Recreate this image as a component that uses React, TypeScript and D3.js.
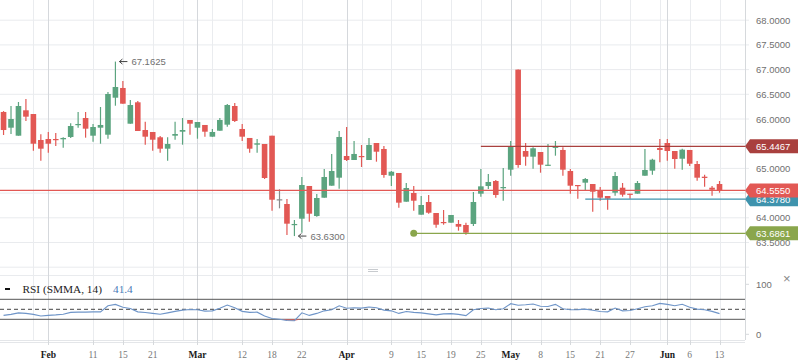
import React from 'react';
import * as d3 from 'd3';

const W = 798, H = 363;

const openV = [66.142,65.824,65.662,66.176,66.101,65.575,65.595,65.595,65.589,65.636,
65.885,66.020,65.662,65.824,65.682,66.431,66.628,65.905,66.338,65.777,
65.737,65.630,65.399,65.662,65.743,65.980,65.824,65.879,65.642,65.763,
65.885,66.263,65.798,65.616,65.480,65.494,65.662,64.375,64.279,63.854,
63.982,64.644,64.036,64.407,64.650,64.812,65.251,65.170,65.251,65.170,
65.514,65.393,64.852,64.907,64.326,64.502,64.063,64.320,64.097,63.915,
63.901,63.875,63.854,63.875,64.488,64.644,64.745,64.603,64.974,67.000,
65.352,65.237,65.332,65.055,65.419,65.373,64.947,64.664,64.711,64.684,
64.549,64.441,64.508,64.609,64.488,64.488,64.852,64.954,65.413,65.514,
65.352,65.196,65.373,65.089,64.832,64.609,64.684];
const highV = [66.160,66.263,66.344,66.405,66.101,65.690,65.737,65.717,65.630,65.913,
66.142,66.142,65.899,66.243,66.547,67.1625,66.769,66.385,66.364,65.945,
65.737,65.656,65.630,65.945,66.020,65.980,65.939,65.879,65.798,66.020,
66.304,66.324,65.899,65.616,65.595,65.494,65.662,64.577,64.381,63.956,
64.826,64.644,64.482,64.988,65.292,65.757,65.838,65.555,65.474,65.616,
65.514,65.453,64.947,64.907,64.704,64.644,64.441,64.462,64.097,64.158,
64.057,63.956,63.901,64.522,64.988,64.887,64.765,65.008,65.555,67.000,
65.514,65.427,65.332,65.494,65.555,65.427,64.988,64.664,64.806,64.684,
64.623,64.441,64.927,64.704,64.488,64.745,65.393,65.196,65.595,65.595,
65.352,65.399,65.373,65.150,64.873,64.644,64.745];
const lowV = [65.676,65.696,65.662,65.960,65.358,65.156,65.318,65.453,65.419,65.616,
65.824,65.622,65.541,65.500,65.601,66.269,66.310,65.905,65.757,65.480,
65.358,65.318,65.156,65.581,65.480,65.682,65.601,65.642,65.642,65.763,
65.844,65.939,65.555,65.318,65.318,64.785,64.144,64.192,63.652,63.630,
63.699,63.921,64.022,64.407,64.650,64.589,65.150,65.170,65.028,65.170,
65.136,64.812,64.644,64.205,64.326,64.144,64.063,64.083,63.800,63.860,
63.901,63.739,63.658,63.834,64.427,64.583,64.407,64.346,64.852,65.014,
65.055,64.994,64.913,65.055,65.257,64.852,64.488,64.387,64.549,64.124,
64.346,64.164,64.447,64.427,64.387,64.488,64.852,64.873,65.124,65.156,
64.994,64.974,65.049,64.751,64.630,64.447,64.508];
const closeV = [65.777,66.000,66.263,66.047,65.500,65.399,65.500,65.581,65.616,65.858,
65.899,65.804,65.838,65.879,66.506,66.648,66.310,66.283,65.757,65.642,
65.581,65.399,65.494,65.696,65.777,65.905,65.939,65.743,65.737,65.980,
66.283,65.960,65.642,65.399,65.508,64.806,64.366,64.375,63.881,63.875,
64.664,64.083,64.401,64.826,64.947,65.636,65.170,65.292,65.237,65.474,
65.338,64.867,64.933,64.306,64.603,64.346,64.259,64.103,63.860,63.895,
64.057,63.820,63.699,64.320,64.637,64.725,64.462,64.623,65.433,65.069,
65.237,65.407,65.075,65.075,65.439,64.974,64.650,64.650,64.785,64.528,
64.407,64.387,64.846,64.468,64.468,64.704,64.968,65.176,65.373,65.352,
65.190,65.379,65.095,64.812,64.806,64.569,64.555];

const rsiV = [37.8,39.8,42.9,41.8,39.8,36.7,37.8,38.8,40.2,43.9,
44.3,44.3,44.9,44.9,57.1,59.8,54.1,51.6,44.9,43.5,
41.8,40.2,42.9,45.9,48.4,49.6,49.0,46.3,46.9,52.0,
58.6,53.1,45.9,43.9,44.3,36.7,31.6,30.0,27.6,27.1,
42.9,37.8,41.8,46.9,49.0,57.1,52.0,53.1,52.4,54.7,
53.1,48.4,46.9,41.8,45.5,43.9,42.9,40.8,38.8,40.8,
41.4,39.8,37.3,49.0,51.6,52.7,49.0,51.0,61.2,58.2,
59.2,60.6,56.1,55.7,59.8,51.0,49.0,49.4,50.4,48.0,
45.5,44.9,52.4,46.9,47.6,51.0,55.1,57.1,61.8,59.8,
57.1,60.2,54.1,50.4,49.0,45.9,41.4];

const tickIdx = [6, 12, 16, 20, 26, 32, 36, 40, 46, 52, 56, 60, 64, 68, 72, 76, 80, 84, 89, 92, 96];
const tickLabels = ['Feb', '11', '15', '21', 'Mar', '12', '18', '22', 'Apr', '9', '15', '19', '25', 'May', '8', '15', '21', '27', 'Jun', '6', '13'];
const monthIdx = [6, 26, 46, 68, 89];
const extraGridIdx = [4, 24, 28, 48, 88];
// labels that stay visible (65.5 and 64.5 sit under the price tags)
const yTicks = [68, 67.5, 67, 66.5, 66, 65, 64, 63.5];
const yGrid = [68.5, 68, 67.5, 67, 66.5, 66, 65.5, 65, 64.5, 64, 63.5, 63];
const rsiLevels = [70, 50, 30];

// price level drawings: value, start index, colour
const levelValues = [65.4467, 64.378, 63.6861];
const levelStart = [64, 78, 55];
const levelColors = ['#a9403e', '#3f93ad', '#8aa64c'];
const lastClose = 64.555;
const highIdx = 15, lowIdx = 39;

const GREEN = '#5ba47f', RED = '#e25854';

export default function App() {
  const x = d3.scaleLinear().domain([0, 96]).range([3.55, 3.55 + 96 * 7.458]);
  const y = d3.scaleLinear().domain([63.5, 68]).range([242.5, 20.2]);
  const ry = d3.scaleLinear().domain([0, 100]).range([334.3, 284.3]);
  const axisX = 745;
  const bw = 5.6;
  const fmt = d3.format('.4f');
  const sans = '"Liberation Sans", Arial, sans-serif';
  const serif = '"Liberation Serif", "Times New Roman", serif';

  const rsiLine = d3.line<number>().x((d, i) => x(i)).y(d => ry(d));
  const rsiArea = d3.area<number>().x((d, i) => x(i)).y0(ry(30)).y1(d => ry(Math.min(d, 30)));

  const tag = (v: number, color: string, key: string) => {
    const cy = y(v);
    const pts = [[axisX, cy], [axisX + 5, cy - 7], [W, cy - 7], [W, cy + 7], [axisX + 5, cy + 7]];
    return (
      <g key={key}>
        <polygon points={pts.map(p => p.join(',')).join(' ')} fill={color} />
        <text x={756} y={cy + 3.5} fill="#fff" fontSize={9.5} fontFamily={sans}>{fmt(v)}</text>
      </g>
    );
  };

  const gridIdx = [...tickIdx, ...extraGridIdx];

  return (
    <div style={{ position: 'absolute', left: 0, top: 0, width: W, height: H, background: '#fff' }}>
      <svg width={W} height={H} style={{ display: 'block' }}>
        <rect x={0} y={0} width={W} height={H} fill="#fff" />
        <defs>
          <clipPath id="plotClip"><rect x={0} y={0} width={axisX} height={268} /></clipPath>
          <clipPath id="rsiClip"><rect x={0} y={276} width={axisX} height={64} /></clipPath>
        </defs>
        {yGrid.map(v => (
          <line key={'hg' + v} x1={0} x2={axisX + 4} y1={y(v)} y2={y(v)} stroke="#e9ebee" />
        ))}
        <line x1={0} x2={axisX} y1={275.5} y2={275.5} stroke="#e9ebee" />
        <line x1={0} x2={axisX} y1={340.5} y2={340.5} stroke="#e4e6e9" />
        {gridIdx.map(i => (
          <line key={'vg' + i} x1={Math.round(x(i)) + 0.5} x2={Math.round(x(i)) + 0.5} y1={0} y2={340}
            stroke={monthIdx.includes(i) ? '#d5d8dc' : '#eaecef'} />
        ))}
        <line x1={axisX + 0.5} x2={axisX + 0.5} y1={0} y2={340} stroke="#d6d9dc" />
        <line x1={368} x2={378} y1={269.5} y2={269.5} stroke="#c8cbcf" />
        <line x1={368} x2={378} y1={271.5} y2={271.5} stroke="#c8cbcf" />

        {yTicks.map(v => (
          <text key={'yl' + v} x={756} y={y(v) + 3.5} fill="#707070" fontSize={9.5} fontFamily={sans}>{fmt(v)}</text>
        ))}

        <g clipPath="url(#plotClip)">
          {openV.map((o, i) => {
            const c = closeV[i];
            const col = c > o ? GREEN : c < o ? RED : '#8a8a8a';
            const top = y(Math.max(o, c)), bot = y(Math.min(o, c));
            const cx = x(i);
            return (
              <g key={'c' + i}>
                <line x1={cx} x2={cx} y1={y(highV[i])} y2={y(lowV[i])} stroke={col} strokeWidth={1.2} />
                <rect x={cx - bw / 2} y={top} width={bw} height={Math.max(bot - top, 1.2)} fill={col} />
              </g>
            );
          })}
        </g>

        <line x1={0} x2={axisX} y1={y(lastClose)} y2={y(lastClose)} stroke={RED} strokeWidth={1.2} />
        {levelValues.map((v, k) => (
          <line key={'lv' + k} x1={x(levelStart[k])} x2={axisX} y1={y(v)} y2={y(v)} stroke={levelColors[k]} strokeWidth={1.2} />
        ))}
        <circle cx={x(levelStart[2])} cy={y(levelValues[2])} r={3.5} fill={levelColors[2]} />

        {[[highIdx, highV[highIdx]], [lowIdx, lowV[lowIdx]]].map(([i, v]) => {
          const ax = x(i) + 3, ay = y(v);
          return (
            <g key={'ann' + i}>
              <line x1={ax + 9} x2={ax + 1} y1={ay} y2={ay} stroke="#444" strokeWidth={1} />
              <path d={`M${ax + 4},${ay - 2.5} L${ax + 1},${ay} L${ax + 4},${ay + 2.5}`} fill="none" stroke="#444" strokeWidth={1} />
              <text x={ax + 13} y={ay + 3.5} fill="#707070" fontSize={9.5} fontFamily={sans}>{fmt(v)}</text>
            </g>
          );
        })}

        {tag(levelValues[0], levelColors[0], 't0')}
        {tag(levelValues[1], levelColors[1], 't1')}
        {tag(lastClose, RED, 't2')}
        {tag(levelValues[2], levelColors[2], 't3')}

        <g clipPath="url(#rsiClip)">
          {rsiLevels.map(l => (
            <line key={'rl' + l} x1={0} x2={axisX} y1={ry(l)} y2={ry(l)} stroke={l === 50 ? '#444' : '#555'}
              strokeDasharray={l === 50 ? '4,3' : undefined} strokeWidth={1} />
          ))}
          <path d={rsiArea(rsiV) || ''} fill={RED} opacity={0.85} />
          <path d={rsiLine(rsiV) || ''} fill="none" stroke="#6f95c8" strokeWidth={1.1} />
        </g>
        <line x1={5} x2={10} y1={289} y2={289} stroke="#111" strokeWidth={2} />
        <text x={22.5} y={293} fontSize={11.3} fontFamily={serif} fill="#222">RSI (SMMA, 14)</text>
        <text x={113} y={293} fontSize={11.3} fontFamily={serif} fill="#4a7bb7">{rsiV[rsiV.length - 1].toFixed(1)}</text>
        <text x={783} y={283} fontSize={13} fontFamily={sans} fill="#888">×</text>
        {[100, 0].map(v => (
          <g key={'rt' + v}>
            <line x1={axisX} x2={axisX + 4} y1={ry(v)} y2={ry(v)} stroke="#d6d9dc" />
            <text x={756} y={ry(v) + 3.5} fill="#707070" fontSize={9.5} fontFamily={sans}>{v}</text>
          </g>
        ))}

        <line x1={0} x2={axisX} y1={342.5} y2={342.5} stroke="#e4e6e9" />
        {tickIdx.map((i, k) => {
          const isMonth = monthIdx.includes(i);
          return (
            <g key={'xt' + k}>
              <line x1={Math.round(x(i)) + 0.5} x2={Math.round(x(i)) + 0.5} y1={340} y2={345} stroke="#d6d9dc" />
              <text x={x(i)} y={358} textAnchor="middle" fontSize={9.5} fontFamily={serif}
                fill={isMonth ? '#1a1a1a' : '#777'} fontWeight={isMonth ? 'bold' : 'normal'}>{tickLabels[k]}</text>
            </g>
          );
        })}
      </svg>
    </div>
  );
}
